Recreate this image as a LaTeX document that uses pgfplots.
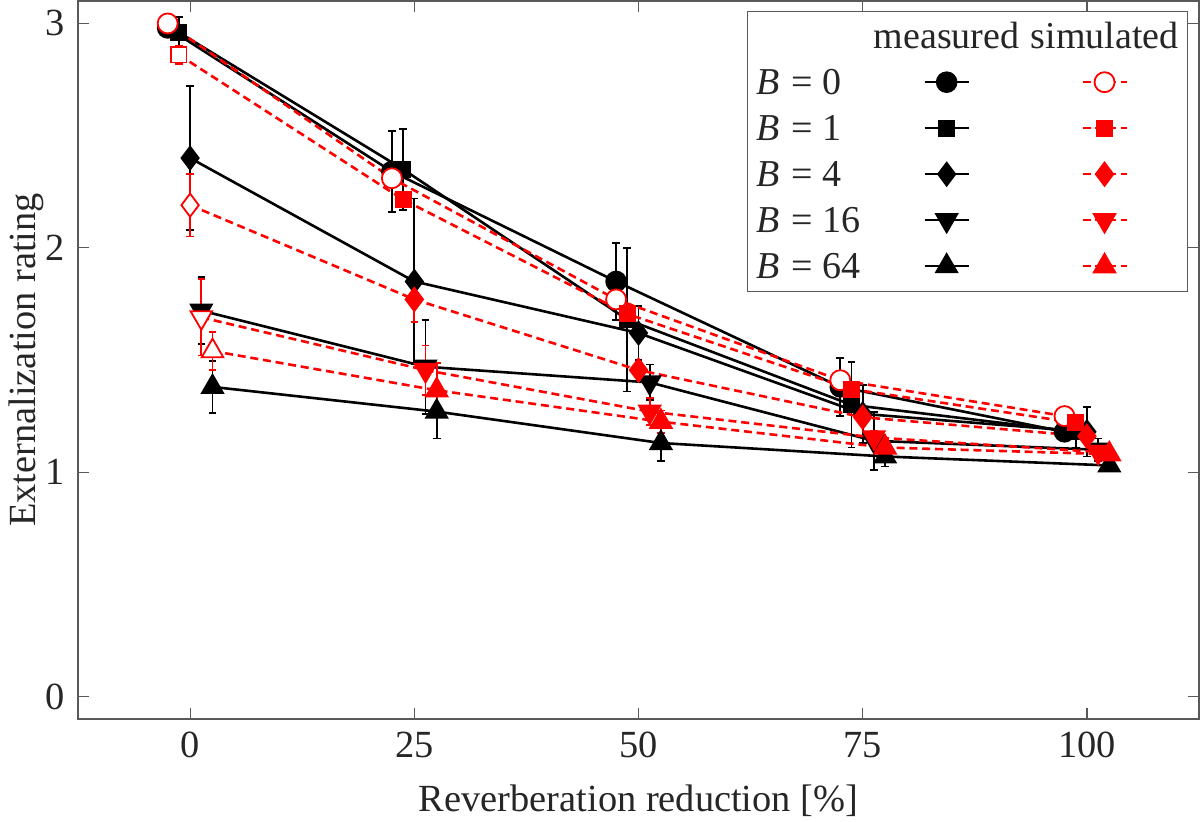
\documentclass[border=0pt]{standalone}
\usepackage{fontspec}
\setmainfont{Liberation Serif}
\usepackage{pgfplots}
\pgfplotsset{compat=1.18}
\pgfplotsset{
  errb/.style={/pgfplots/error bars/y dir=both, /pgfplots/error bars/y explicit,
    /pgfplots/error bars/error bar style={line width=0.45pt, solid},
    /pgfplots/error bars/error mark options={rotate=90, mark size=0.95pt, line width=0.45pt, solid}},
  meas/.style={black, line width=0.65pt, mark options={solid, fill=black, line width=0.4pt}},
  sim/.style={red, line width=0.65pt, dash pattern=on 2pt off 1.2pt, mark options={solid, fill=red, line width=0.45pt}},
  leg/.style={legend image code/.code={\draw[mark repeat=2,mark phase=2] plot coordinates {(0pt,0pt) (5.5pt,0pt) (11pt,0pt)};}},
  dn/.style={/tikz/every mark/.append style={rotate=180}},
}
\newcommand{\Bl}[1]{\makebox[28.5pt][l]{\hspace*{1pt}\textit{B}\hspace{2.8pt}=\hspace{2.5pt}#1}}
\begin{document}
\fontsize{9.5pt}{11.4pt}\selectfont
\begin{tikzpicture}
\begin{axis}[
  name=ax, scale only axis, width=280.25pt, height=179.5pt,
  xmin=-12.5, xmax=112.5, ymin=-0.1, ymax=3.1,
  xtick={0,25,50,75,100}, ytick={0,1,2,3},
  tick align=inside, major tick length=2.75pt,
  axis line style={line width=0.3pt, black!65},
  every tick/.style={line width=0.3pt, black!65},
  tick label style={black!85, font=\fontsize{9.6pt}{11.5pt}\selectfont},
  label style={black!85, font=\fontsize{9.6pt}{11.5pt}\selectfont},
  /pgf/number format/assume math mode=true,
  xlabel={Reverberation reduction [\%]},
  ylabel={Externalization rating},
  ylabel shift=-6.25pt,
  legend columns=3,
  legend style={at={(1,1)}, anchor=north east, xshift=-2.75pt, yshift=-2.4pt,
    draw=black!65, line width=0.3pt, column sep=0pt, row sep=0pt,
    inner xsep=1.25pt, inner ysep=0.5pt,
    nodes={inner sep=0pt, text height=8.8pt, text depth=2.7pt, text=black!85},
    cells={anchor=west}},
]
% measured
\addplot[meas, mark=*, mark size=2.5pt, errb, forget plot] table[x=x,y=y,y error=e]{
x y e
-2.5 2.98 0.04
22.5 2.34 0.18
47.5 1.85 0.17
72.5 1.38 0.13
97.5 1.18 0.03
};
\addplot[meas, mark=square*, mark size=1.9pt, errb, forget plot] table[x=x,y=y,y error=e]{
x y e
-1.25 2.96 0.07
23.75 2.35 0.18
48.75 1.68 0.32
73.75 1.30 0.19
98.75 1.18 0.07
};
\addplot[meas, mark=diamond*, mark size=2.9pt, errb, forget plot] table[x=x,y=y,y error=e]{
x y e
0 2.40 0.32
25 1.85 0.37
50 1.62 0.12
75 1.26 0.13
100 1.18 0.11
};
\addplot[meas, mark=triangle*, mark size=3.1pt, dn, errb, forget plot] table[x=x,y=y,y error=e]{
x y e
1.25 1.72 0.15
26.25 1.47 0.21
51.25 1.40 0.08
76.25 1.14 0.13
101.25 1.10 0.05
};
\addplot[meas, mark=triangle*, mark size=3.1pt, errb, forget plot] table[x=x,y=y,y error=e]{
x y e
2.5 1.38 0.115
27.5 1.27 0.12
52.5 1.13 0.08
77.5 1.07 0.045
102.5 1.03 0.02
};
% simulated
\addplot[sim, mark=*, mark size=2.5pt, mark options={solid, fill=white, line width=0.45pt}, forget plot] table[x=x,y=y]{
x y
-2.5 3.00
22.5 2.31
47.5 1.77
72.5 1.41
97.5 1.25
};
\addplot[sim, mark=square*, mark size=1.9pt, mark indices={2,3,4,5}, errb, forget plot] table[x=x,y=y,y error=e]{
x y e
-1.25 2.86 0.04
23.75 2.215 0.03
48.75 1.705 0.03
73.75 1.37 0.03
98.75 1.22 0.03
};
\addplot[sim, only marks, mark=square*, mark size=1.9pt, mark options={solid, fill=white, line width=0.45pt}, forget plot] table[x=x,y=y]{
x y
-1.25 2.86
};
\addplot[sim, mark=diamond*, mark size=2.9pt, mark indices={2,3,4,5}, errb, forget plot] table[x=x,y=y,y error=e]{
x y e
0 2.19 0.14
25 1.77 0.10
50 1.455 0.03
75 1.245 0.03
100 1.16 0.03
};
\addplot[sim, only marks, mark=diamond*, mark size=2.9pt, mark options={solid, fill=white, line width=0.45pt}, forget plot] table[x=x,y=y]{
x y
0 2.19
};
\addplot[sim, mark=triangle*, mark size=3.1pt, dn, mark indices={2,3,4,5}, errb, forget plot] table[x=x,y=y,y error=e]{
x y e
1.25 1.69 0.17
26.25 1.455 0.11
51.25 1.27 0.06
76.25 1.155 0.03
101.25 1.09 0.03
};
\addplot[sim, only marks, mark=triangle*, mark size=3.1pt, mark options={solid, fill=white, line width=0.45pt, rotate=180}, forget plot] table[x=x,y=y]{
x y
1.25 1.69
};
\addplot[sim, mark=triangle*, mark size=3.1pt, mark indices={2,3,4,5}, errb, forget plot] table[x=x,y=y,y error=e]{
x y e
2.5 1.54 0.085
27.5 1.365 0.12
52.5 1.225 0.05
77.5 1.11 0.03
102.5 1.08 0.02
};
\addplot[sim, only marks, mark=triangle*, mark size=3.1pt, mark options={solid, fill=white, line width=0.45pt}, forget plot] table[x=x,y=y]{
x y
2.5 1.54
};
% legend
\addlegendimage{empty legend}\addlegendentry{\mbox{}}
\addlegendimage{legend image code/.code={\node[inner sep=0pt,minimum width=40pt,text height=8.8pt,text depth=2.7pt,anchor=center,text=black!85] at (5.5pt,0pt) {measured};}}\addlegendentry{\mbox{}}
\addlegendimage{legend image code/.code={\node[inner sep=0pt,minimum width=30pt,text height=8.8pt,text depth=2.7pt,anchor=center,text=black!85] at (5.5pt,0pt) {simulated};}}\addlegendentry{\mbox{}}
\addlegendimage{empty legend}\addlegendentry{\Bl{0}}
\addlegendimage{meas, mark=*, mark size=2.5pt, leg}\addlegendentry{\mbox{}}
\addlegendimage{sim, mark=*, mark size=2.5pt, mark options={solid, fill=white, line width=0.45pt}, leg}\addlegendentry{\mbox{}}
\addlegendimage{empty legend}\addlegendentry{\Bl{1}}
\addlegendimage{meas, mark=square*, mark size=1.9pt, leg}\addlegendentry{\mbox{}}
\addlegendimage{sim, mark=square*, mark size=1.9pt, leg}\addlegendentry{\mbox{}}
\addlegendimage{empty legend}\addlegendentry{\Bl{4}}
\addlegendimage{meas, mark=diamond*, mark size=2.9pt, leg}\addlegendentry{\mbox{}}
\addlegendimage{sim, mark=diamond*, mark size=2.9pt, leg}\addlegendentry{\mbox{}}
\addlegendimage{empty legend}\addlegendentry{\Bl{16}}
\addlegendimage{meas, mark=triangle*, mark size=3.1pt, dn, leg}\addlegendentry{\mbox{}}
\addlegendimage{sim, mark=triangle*, mark size=3.1pt, dn, leg}\addlegendentry{\mbox{}}
\addlegendimage{empty legend}\addlegendentry{\Bl{64}}
\addlegendimage{meas, mark=triangle*, mark size=3.1pt, leg}\addlegendentry{\mbox{}}
\addlegendimage{sim, mark=triangle*, mark size=3.1pt, leg}\addlegendentry{\mbox{}}
\end{axis}
\pgfresetboundingbox
\useasboundingbox ([shift={(-19.5pt,-25.75pt)}]ax.south west) rectangle ([shift={(0.25pt,0.25pt)}]ax.north east);
\end{tikzpicture}
\end{document}
